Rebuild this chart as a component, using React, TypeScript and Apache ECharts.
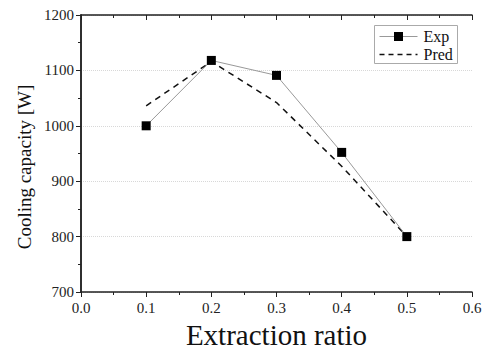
import React, { useEffect, useRef } from "react";
import * as echarts from "echarts";

const ratios = [0.1, 0.2, 0.3, 0.4, 0.5];
const expValues = [1000, 1118, 1091, 952, 800];
const predValues = [1036, 1116, 1042, 927, 800];
const xTitle = "Extraction ratio";
const yTitle = "Cooling capacity [W]";
const seriesNames = ["Exp", "Pred"];

const FONT = "'Liberation Serif', 'Times New Roman', serif";

export default function App() {
  const ref = useRef<HTMLDivElement>(null);
  useEffect(() => {
    const chart = echarts.init(ref.current!, null, { renderer: "svg" });
    const axisLine = { show: true, lineStyle: { color: "#222", width: 1.5 } };
    const minorTick = { show: true, splitNumber: 2, length: 3, lineStyle: { color: "#222", width: 1 } };
    const xCommon = {
      type: "value",
      min: 0,
      max: 0.6,
      interval: 0.1,
      axisLine,
      splitLine: { show: false },
      minorTick,
    };
    const yCommon = {
      type: "value",
      min: 700,
      max: 1200,
      interval: 100,
      axisLine,
      minorTick,
    };
    chart.setOption({
      animation: false,
      backgroundColor: "#fff",
      grid: { left: 81, top: 15, right: 16, bottom: 59 },
      legend: { show: false, data: seriesNames },
      xAxis: [
        {
          ...xCommon,
          position: "bottom",
          axisTick: { show: true, inside: false, length: 5, lineStyle: { color: "#222", width: 1 } },
          axisLabel: {
            fontFamily: FONT,
            fontSize: 15,
            color: "#222",
            margin: 8,
            formatter: (v: number) => v.toFixed(1),
          },
        },
        {
          ...xCommon,
          position: "top",
          axisTick: { show: true, inside: true, length: 5, lineStyle: { color: "#222", width: 1 } },
          axisLabel: { show: false },
        },
      ],
      yAxis: [
        {
          ...yCommon,
          position: "left",
          axisTick: { show: true, inside: false, length: 5, lineStyle: { color: "#222", width: 1 } },
          axisLabel: {
            fontFamily: FONT,
            fontSize: 15,
            color: "#222",
            margin: 7,
            formatter: (v: number) => String(v),
          },
          splitLine: { show: true, lineStyle: { type: "dotted", color: "#d8d8d8", width: 1 } },
        },
        {
          ...yCommon,
          position: "right",
          axisTick: { show: true, inside: true, length: 5, lineStyle: { color: "#222", width: 1 } },
          axisLabel: { show: false },
          splitLine: { show: false },
        },
      ],
      graphic: [
        {
          type: "text",
          x: 276.5,
          y: 335,
          style: {
            text: xTitle,
            fontFamily: FONT,
            fontSize: 29,
            fill: "#111",
            textAlign: "center",
            textVerticalAlign: "middle",
          },
        },
        {
          type: "text",
          x: 24,
          y: 167,
          rotation: Math.PI / 2,
          style: {
            text: yTitle,
            fontFamily: FONT,
            fontSize: 19,
            fill: "#111",
            textAlign: "center",
            textVerticalAlign: "middle",
          },
        },
        {
          type: "group",
          left: 374,
          top: 25,
          children: [
            {
              type: "rect",
              shape: { x: 0, y: 0, width: 83, height: 38 },
              style: { fill: "#fff", stroke: "#aaa", lineWidth: 1 },
            },
            {
              type: "line",
              shape: { x1: 5, y1: 11, x2: 43, y2: 11 },
              style: { stroke: "#999", lineWidth: 1 },
            },
            {
              type: "rect",
              shape: { x: 19.5, y: 6.5, width: 9, height: 9 },
              style: { fill: "#000" },
            },
            {
              type: "text",
              x: 49,
              y: 11,
              style: {
                text: seriesNames[0],
                fontFamily: FONT,
                fontSize: 16,
                fill: "#111",
                textVerticalAlign: "middle",
              },
            },
            {
              type: "line",
              shape: { x1: 5, y1: 29, x2: 43, y2: 29 },
              style: { stroke: "#111", lineWidth: 1.5, lineDash: [5, 4] },
            },
            {
              type: "text",
              x: 49,
              y: 29,
              style: {
                text: seriesNames[1],
                fontFamily: FONT,
                fontSize: 16,
                fill: "#111",
                textVerticalAlign: "middle",
              },
            },
          ],
        },
      ],
      series: [
        {
          name: seriesNames[0],
          type: "line",
          data: ratios.map((r, i) => [r, expValues[i]]),
          symbol: "rect",
          symbolSize: 9,
          itemStyle: { color: "#000" },
          lineStyle: { color: "#999", width: 1 },
          z: 3,
        },
        {
          name: seriesNames[1],
          type: "line",
          data: ratios.map((r, i) => [r, predValues[i]]),
          symbol: "none",
          itemStyle: { color: "#000" },
          lineStyle: { color: "#111", width: 1.5, type: [6, 5] },
          z: 2,
        },
      ],
    });
    return () => chart.dispose();
  }, []);
  return (
    <div
      ref={ref}
      style={{ position: "absolute", left: 0, top: 0, width: 488, height: 351 }}
    />
  );
}
